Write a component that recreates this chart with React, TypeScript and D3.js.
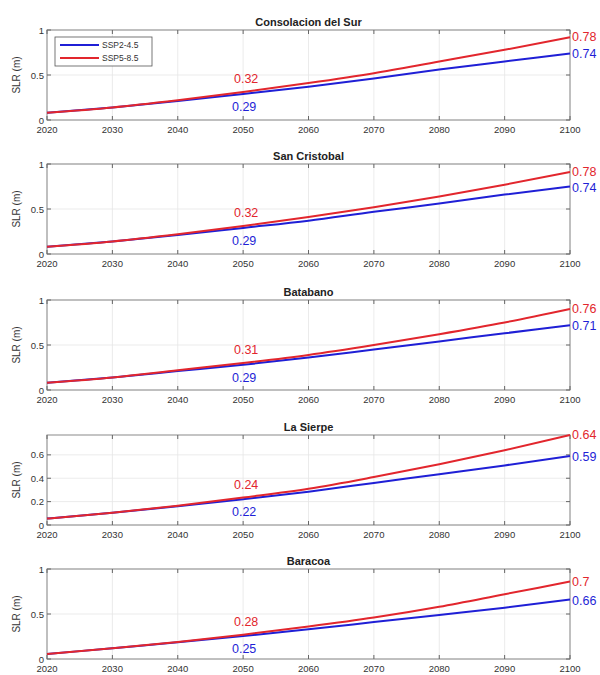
import React from "react";
import * as d3 from "d3";

// decades on the x axis
const years = [2020, 2030, 2040, 2050, 2060, 2070, 2080, 2090, 2100];
const xTicks = [2020, 2030, 2040, 2050, 2060, 2070, 2080, 2090, 2100];

const sites = ["Consolacion del Sur", "San Cristobal", "Batabano", "La Sierpe", "Baracoa"];

// SSP2-4.5 (blue)
const ssp245 = [
  [0.08, 0.14, 0.21, 0.29, 0.37, 0.46, 0.56, 0.65, 0.74],
  [0.08, 0.14, 0.21, 0.29, 0.37, 0.47, 0.56, 0.66, 0.75],
  [0.08, 0.14, 0.21, 0.28, 0.36, 0.45, 0.54, 0.63, 0.72],
  [0.055, 0.105, 0.16, 0.22, 0.285, 0.36, 0.435, 0.51, 0.59],
  [0.055, 0.12, 0.185, 0.255, 0.33, 0.41, 0.49, 0.57, 0.66],
];
// SSP5-8.5 (red)
const ssp585 = [
  [0.08, 0.14, 0.22, 0.31, 0.41, 0.52, 0.65, 0.78, 0.92],
  [0.08, 0.14, 0.22, 0.31, 0.41, 0.52, 0.64, 0.77, 0.91],
  [0.08, 0.14, 0.22, 0.3, 0.39, 0.5, 0.62, 0.75, 0.9],
  [0.055, 0.105, 0.165, 0.235, 0.31, 0.41, 0.52, 0.64, 0.77],
  [0.055, 0.12, 0.19, 0.27, 0.36, 0.46, 0.58, 0.72, 0.86],
];

// annotation text shown on each panel
const label2050Blue = ["0.29", "0.29", "0.29", "0.22", "0.25"];
const label2050Red = ["0.32", "0.32", "0.31", "0.24", "0.28"];
const label2100Blue = ["0.74", "0.74", "0.71", "0.59", "0.66"];
const label2100Red = ["0.78", "0.78", "0.76", "0.64", "0.7"];

const yMax = [1, 1, 1, 0.77, 1];
const yTicks = [[0, 0.5, 1], [0, 0.5, 1], [0, 0.5, 1], [0, 0.2, 0.4, 0.6], [0, 0.5, 1]];

const panelTops = [30, 164, 300, 435, 569];
const panelH = 90;
const left = 47;
const right = 570;

const BLUE = "#1f1fd6";
const RED = "#e2262d";
const font = "Liberation Sans, Arial, sans-serif";

function Panel({ i }: { i: number }) {
  const top = panelTops[i];
  const x = d3.scaleLinear().domain([2020, 2100]).range([left, right]);
  const y = d3.scaleLinear().domain([0, yMax[i]]).range([top + panelH, top]);
  const line = d3
    .line<number>()
    .x((_, k) => x(years[k]))
    .y((v) => y(v))
    .curve(d3.curveMonotoneX);

  const b50 = ssp245[i][3];
  const r50 = ssp585[i][3];
  const b100 = ssp245[i][8];
  const r100 = ssp585[i][8];

  return (
    <g>
      <rect x={left} y={top} width={right - left} height={panelH} fill="#fff" />
      {xTicks.map((t) => (
        <line key={"gx" + t} x1={x(t)} x2={x(t)} y1={top} y2={top + panelH} stroke="#e6e6e6" strokeWidth={0.8} />
      ))}
      {yTicks[i].map((t) => (
        <line key={"gy" + t} x1={left} x2={right} y1={y(t)} y2={y(t)} stroke="#e6e6e6" strokeWidth={0.8} />
      ))}
      <rect x={left} y={top} width={right - left} height={panelH} fill="none" stroke="#8a8a8a" strokeWidth={1} />
      {xTicks.map((t) => (
        <g key={"tx" + t}>
          <line x1={x(t)} x2={x(t)} y1={top + panelH} y2={top + panelH - 4} stroke="#666" />
          <line x1={x(t)} x2={x(t)} y1={top} y2={top + 4} stroke="#666" />
          <text x={x(t)} y={top + panelH + 13} textAnchor="middle" fontSize={9.5} fill="#333" fontFamily={font}>
            {t}
          </text>
        </g>
      ))}
      {yTicks[i].map((t) => (
        <g key={"ty" + t}>
          <line x1={left} x2={left + 4} y1={y(t)} y2={y(t)} stroke="#666" />
          <line x1={right} x2={right - 4} y1={y(t)} y2={y(t)} stroke="#666" />
          <text x={left - 3} y={y(t) + 3.5} textAnchor="end" fontSize={9.5} fill="#333" fontFamily={font}>
            {t}
          </text>
        </g>
      ))}
      <text
        transform={`translate(20,${top + panelH / 2}) rotate(-90)`}
        textAnchor="middle"
        fontSize={10}
        fill="#333"
        fontFamily={font}
      >
        SLR (m)
      </text>
      <text x={(left + right) / 2} y={top - 4} textAnchor="middle" fontSize={11} fontWeight="bold" fill="#222" fontFamily={font}>
        {sites[i]}
      </text>
      <path d={line(ssp245[i]) || ""} fill="none" stroke={BLUE} strokeWidth={2} />
      <path d={line(ssp585[i]) || ""} fill="none" stroke={RED} strokeWidth={2} />
      <text x={x(2050) + 3} y={y(r50) - 9} textAnchor="middle" fontSize={12.5} fill={RED} fontFamily={font}>
        {label2050Red[i]}
      </text>
      <text x={x(2050) + 1} y={y(b50) + 17} textAnchor="middle" fontSize={12.5} fill={BLUE} fontFamily={font}>
        {label2050Blue[i]}
      </text>
      <text x={x(2100) + 2} y={y(r100) + 4} fontSize={12.5} fill={RED} fontFamily={font}>
        {label2100Red[i]}
      </text>
      <text x={x(2100) + 2} y={y(b100) + 5} fontSize={12.5} fill={BLUE} fontFamily={font}>
        {label2100Blue[i]}
      </text>
      {i === 0 && (
        <g>
          <rect x={55} y={37} width={97} height={29} fill="#fff" stroke="#555" strokeWidth={0.8} />
          <line x1={60} x2={99} y1={45} y2={45} stroke={BLUE} strokeWidth={2} />
          <line x1={60} x2={99} y1={58} y2={58} stroke={RED} strokeWidth={2} />
          <text x={102} y={48} fontSize={8.5} fill="#333" fontFamily={font}>SSP2-4.5</text>
          <text x={102} y={61} fontSize={8.5} fill="#333" fontFamily={font}>SSP5-8.5</text>
        </g>
      )}
    </g>
  );
}

export default function App() {
  return (
    <svg
      width={600}
      height={675}
      style={{ position: "absolute", left: 0, top: 0, background: "#fff" }}
    >
      <rect width={600} height={675} fill="#fff" />
      {sites.map((_, i) => (
        <Panel key={i} i={i} />
      ))}
    </svg>
  );
}
